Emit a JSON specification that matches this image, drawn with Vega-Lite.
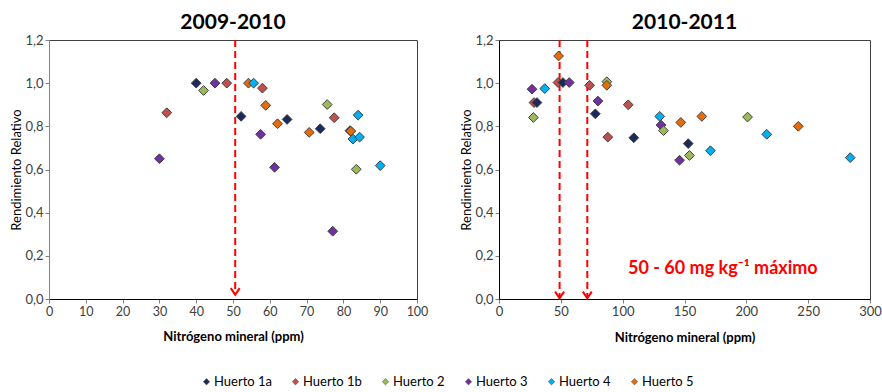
{
  "$schema": "https://vega.github.io/schema/vega-lite/v6.json",
  "padding": {"left": 10, "top": 11, "right": 2, "bottom": 5},
  "background": "white",
  "config": {
    "font": "Lato",
    "view": {"stroke": "#404040", "strokeWidth": 1},
    "axis": {"grid": false, "labelFontSize": 13, "labelColor": "#404040", "titleFontSize": 13, "titleColor": "#000000", "tickColor": "#808080", "tickSize": 4, "domainColor": "#404040", "labelOverlap": false, "labelFlush": false, "labelBound": false},
    "title": {"fontSize": 21, "fontWeight": "bold", "color": "#000000", "offset": 1},
    "concat": {"spacing": 31}
  },
  "datasets": {
    "p1": [
      {"huerto": "Huerto 3", "n": 30, "rr": 0.65},
      {"huerto": "Huerto 1b", "n": 32, "rr": 0.863},
      {"huerto": "Huerto 1a", "n": 40, "rr": 1.0},
      {"huerto": "Huerto 2", "n": 42, "rr": 0.966},
      {"huerto": "Huerto 3", "n": 45.1, "rr": 1.0},
      {"huerto": "Huerto 1b", "n": 48.3, "rr": 1.0},
      {"huerto": "Huerto 1a", "n": 52.2, "rr": 0.846},
      {"huerto": "Huerto 5", "n": 54.2, "rr": 1.0},
      {"huerto": "Huerto 4", "n": 55.6, "rr": 1.0},
      {"huerto": "Huerto 1b", "n": 58, "rr": 0.977},
      {"huerto": "Huerto 5", "n": 58.9, "rr": 0.897},
      {"huerto": "Huerto 3", "n": 57.5, "rr": 0.763},
      {"huerto": "Huerto 5", "n": 62.1, "rr": 0.812},
      {"huerto": "Huerto 1a", "n": 64.7, "rr": 0.832},
      {"huerto": "Huerto 3", "n": 61.3, "rr": 0.61},
      {"huerto": "Huerto 5", "n": 70.7, "rr": 0.772},
      {"huerto": "Huerto 1a", "n": 73.7, "rr": 0.789},
      {"huerto": "Huerto 2", "n": 75.6, "rr": 0.901},
      {"huerto": "Huerto 1b", "n": 77.5, "rr": 0.84},
      {"huerto": "Huerto 3", "n": 77.1, "rr": 0.314},
      {"huerto": "Huerto 1a", "n": 81.8, "rr": 0.78},
      {"huerto": "Huerto 5", "n": 82, "rr": 0.778},
      {"huerto": "Huerto 4", "n": 82.6, "rr": 0.741},
      {"huerto": "Huerto 4", "n": 84, "rr": 0.852},
      {"huerto": "Huerto 4", "n": 84.4, "rr": 0.75},
      {"huerto": "Huerto 2", "n": 83.5, "rr": 0.601},
      {"huerto": "Huerto 4", "n": 90, "rr": 0.618}
    ],
    "p2": [
      {"huerto": "Huerto 3", "n": 26.7, "rr": 0.972},
      {"huerto": "Huerto 1b", "n": 28.3, "rr": 0.91},
      {"huerto": "Huerto 1a", "n": 30.7, "rr": 0.91},
      {"huerto": "Huerto 2", "n": 27.8, "rr": 0.841},
      {"huerto": "Huerto 4", "n": 37, "rr": 0.975},
      {"huerto": "Huerto 5", "n": 48.2, "rr": 1.126},
      {"huerto": "Huerto 1b", "n": 47.7, "rr": 1.003},
      {"huerto": "Huerto 1a", "n": 51.7, "rr": 1.003},
      {"huerto": "Huerto 3", "n": 56.8, "rr": 1.003},
      {"huerto": "Huerto 1b", "n": 73.3, "rr": 0.99},
      {"huerto": "Huerto 3", "n": 80, "rr": 0.917},
      {"huerto": "Huerto 1a", "n": 77.9, "rr": 0.858},
      {"huerto": "Huerto 2", "n": 87.2, "rr": 1.007},
      {"huerto": "Huerto 5", "n": 87.2, "rr": 0.99},
      {"huerto": "Huerto 1b", "n": 88, "rr": 0.75},
      {"huerto": "Huerto 1b", "n": 104.5, "rr": 0.9},
      {"huerto": "Huerto 1a", "n": 109, "rr": 0.747},
      {"huerto": "Huerto 4", "n": 130, "rr": 0.846},
      {"huerto": "Huerto 3", "n": 131, "rr": 0.806},
      {"huerto": "Huerto 2", "n": 133, "rr": 0.78},
      {"huerto": "Huerto 1a", "n": 153, "rr": 0.72},
      {"huerto": "Huerto 2", "n": 154, "rr": 0.665},
      {"huerto": "Huerto 3", "n": 146, "rr": 0.643},
      {"huerto": "Huerto 5", "n": 147, "rr": 0.818},
      {"huerto": "Huerto 5", "n": 164, "rr": 0.846},
      {"huerto": "Huerto 4", "n": 171, "rr": 0.687},
      {"huerto": "Huerto 2", "n": 201, "rr": 0.843},
      {"huerto": "Huerto 4", "n": 216.5, "rr": 0.763},
      {"huerto": "Huerto 5", "n": 242, "rr": 0.8},
      {"huerto": "Huerto 4", "n": 284, "rr": 0.655}
    ],
    "l1": [{"n": 50.6, "top": 1.2, "bottom": 0.02}],
    "l2": [{"n": 49, "top": 1.2, "bottom": 0.004}, {"n": 71.4, "top": 1.2, "bottom": 0.004}],
    "t2": [{"label": "50 - 60 mg kg⁻¹ máximo", "n": 181, "rr": 0.138}]
  },
  "hconcat": [
    {
      "title": "2009-2010",
      "width": 368,
      "height": 259,
      "encoding": {
        "x": {"type": "quantitative", "title": "Nitrógeno mineral (ppm)", "scale": {"domain": [0, 100], "nice": false},
          "axis": {"values": [0, 10, 20, 30, 40, 50, 60, 70, 80, 90, 100], "labelFontSize": 12.5, "labelSeparation": -20, "labelOverlap": false, "labelFlush": false, "titleFontWeight": "bold", "domainColor": "#000000", "titlePadding": 13}},
        "y": {"type": "quantitative", "title": "Rendimiento Relativo", "scale": {"domain": [0, 1.2], "nice": false},
          "axis": {"values": [0, 0.2, 0.4, 0.6, 0.8, 1.0, 1.2], "labelExpr": "replace(format(datum.value, '.1f'), '.', ',')", "titleFontWeight": "normal", "domainColor": "#868686", "titlePadding": 1}}
      },
      "layer": [
        {
          "data": {"name": "l1"},
          "mark": {"type": "rule", "color": "#FF0000", "strokeWidth": 2, "strokeDash": [7, 4]},
          "encoding": {
            "x": {"field": "n"},
            "y": {"field": "top"},
            "y2": {"field": "bottom"}
          }
        },
        {
          "data": {"name": "l1"},
          "mark": {"type": "point", "shape": "M-0.9,-1.3L0,0L0.9,-1.3", "filled": false, "stroke": "#FF0000", "strokeWidth": 2, "size": 100, "opacity": 1},
          "encoding": {
            "x": {"field": "n"},
            "y": {"field": "bottom"}
          }
        },
        {
          "data": {"name": "p1"},
          "mark": {"type": "point", "shape": "diamond", "filled": true, "size": 95, "stroke": "#404040", "strokeWidth": 1, "opacity": 1},
          "encoding": {
            "x": {"field": "n"},
            "y": {"field": "rr"},
            "color": {"field": "huerto", "type": "nominal",
              "scale": {"domain": ["Huerto 1a", "Huerto 1b", "Huerto 2", "Huerto 3", "Huerto 4", "Huerto 5"], "range": ["#1B2A5C", "#C0504D", "#9BBB59", "#7030A0", "#00B0F0", "#E46C0A"]},
              "legend": {"title": null, "orient": "none", "direction": "horizontal", "legendX": 151, "legendY": 335, "symbolType": "diamond", "symbolSize": 40, "symbolStrokeColor": "#404040", "symbolStrokeWidth": 0.5, "labelFontSize": 13, "labelColor": "#000000", "columnPadding": 17, "symbolOffset": 0, "labelOffset": 1}}
          }
        }
      ]
    },
    {
      "title": "2010-2011",
      "width": 371,
      "height": 259,
      "encoding": {
        "x": {"type": "quantitative", "title": "Nitrógeno mineral (ppm)", "scale": {"domain": [0, 300], "nice": false},
          "axis": {"values": [0, 50, 100, 150, 200, 250, 300], "labelOverlap": false, "labelFlush": false, "titleFontWeight": "bold", "domainColor": "#000000", "titlePadding": 13}},
        "y": {"type": "quantitative", "title": "Rendimiento Relativo", "scale": {"domain": [0, 1.2], "nice": false},
          "axis": {"values": [0, 0.2, 0.4, 0.6, 0.8, 1.0, 1.2], "labelExpr": "replace(format(datum.value, '.1f'), '.', ',')", "titleFontWeight": "normal", "domainColor": "#000000", "titlePadding": 1}}
      },
      "layer": [
        {
          "data": {"name": "l2"},
          "mark": {"type": "rule", "color": "#FF0000", "strokeWidth": 2, "strokeDash": [7, 4]},
          "encoding": {
            "x": {"field": "n"},
            "y": {"field": "top"},
            "y2": {"field": "bottom"}
          }
        },
        {
          "data": {"name": "l2"},
          "mark": {"type": "point", "shape": "M-0.9,-1.3L0,0L0.9,-1.3", "filled": false, "stroke": "#FF0000", "strokeWidth": 2, "size": 100, "opacity": 1},
          "encoding": {
            "x": {"field": "n"},
            "y": {"field": "bottom"}
          }
        },
        {
          "data": {"name": "t2"},
          "mark": {"type": "text", "color": "#FF0000", "fontSize": 18, "fontWeight": "bold", "align": "center", "baseline": "middle"},
          "encoding": {
            "x": {"field": "n"},
            "y": {"field": "rr"},
            "text": {"field": "label"}
          }
        },
        {
          "data": {"name": "p2"},
          "mark": {"type": "point", "shape": "diamond", "filled": true, "size": 95, "stroke": "#404040", "strokeWidth": 1, "opacity": 1},
          "encoding": {
            "x": {"field": "n"},
            "y": {"field": "rr"},
            "color": {"field": "huerto", "type": "nominal"}
          }
        }
      ]
    }
  ]
}
